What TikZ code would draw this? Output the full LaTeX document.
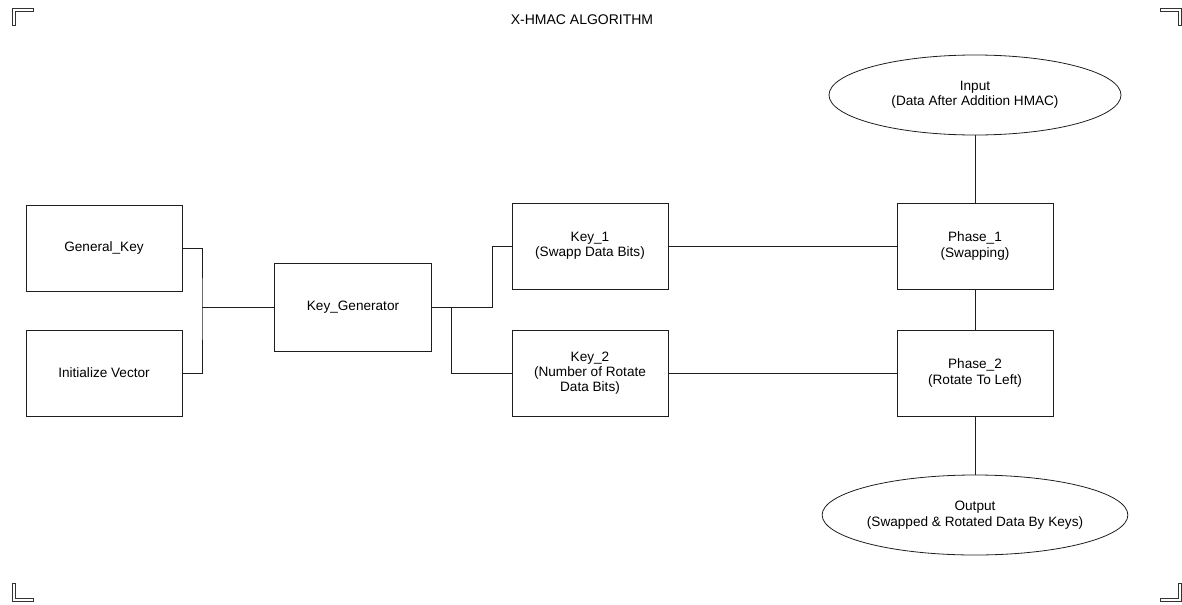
\documentclass[tikz,border=0pt]{standalone}
\usepackage{fontspec}
\setmainfont{Liberation Sans}
\usetikzlibrary{positioning,shapes.geometric}
\definecolor{xhline}{RGB}{30,30,30}
\definecolor{xhmark}{RGB}{50,50,50}
\tikzset{
  blockbox/.style={draw=xhline,line width=0.6pt,minimum width=117pt,minimum height=64.5pt,
    align=center,font=\fontsize{10.2}{11.5}\selectfont,inner sep=1pt},
  termoval/.style={draw=xhline,line width=0.6pt,ellipse,inner sep=0pt,
    align=center,font=\fontsize{10.2}{11.5}\selectfont},
  linkline/.style={draw=xhline,line width=0.6pt},
  cornermark/.style={draw=xhmark,line width=0.6pt,fill=white},
  headfont/.style={font=\fontsize{10.5}{12}\selectfont},
}
\begin{document}
\begin{tikzpicture}[x=0.75pt,y=-0.75pt]
        \useasboundingbox (0,0) rectangle (1182,604);
        % corner marks
        \draw[cornermark] (12,8) -- (33,8) -- (33,11) -- (15,11) -- (15,25) -- (12,25) -- cycle;
        \draw[cornermark] (1181,8) -- (1160,8) -- (1160,11) -- (1178,11) -- (1178,25) -- (1181,25) -- cycle;
        \draw[cornermark] (12,601) -- (33,601) -- (33,598) -- (15,598) -- (15,583) -- (12,583) -- cycle;
        \draw[cornermark] (1181,601) -- (1160,601) -- (1160,598) -- (1178,598) -- (1178,583) -- (1181,583) -- cycle;
        \node[headfont] (title) at (582,20) {X-HMAC ALGORITHM};
        % blocks
        \node[blockbox] (gk) at (104,248) {General\_Key};
        \node[blockbox] (iv) at (104,373) {Initialize Vector};
        \node[blockbox,minimum width=117.75pt,minimum height=66pt] (kg) at (353,307) {Key\_Generator};
        \node[blockbox] (k1) at (590,246) {Key\_1\\(Swapp Data Bits)};
        \node[blockbox] (k2) at (590,373) {Key\_2\\(Number of Rotate\\Data Bits)};
        \node[blockbox] (p1) at (975,246) {Phase\_1\\(Swapping)};
        \node[blockbox] (p2) at (975,373) {Phase\_2\\(Rotate To Left)};
        \node[termoval,minimum width=219pt,minimum height=60pt] (in) at (975,95) {Input\\(Data After Addition HMAC)};
        \node[termoval,minimum width=226.5pt,minimum height=60pt] (out) at (975,515) {Output\\(Swapped \& Rotated Data By Keys)};
        % joints
        \coordinate (jin) at (202,307);
        \coordinate (jk1) at (492,307);
        \coordinate (jk2) at (451,307);
        % links
        \draw[linkline] (gk.east) -| (jin) |- (iv.east);
        \draw[linkline] (jin) -- (kg.west);
        \draw[linkline] (kg.east) -- (jk1) |- (k1.west);
        \draw[linkline] (jk2) |- (k2.west);
        \draw[linkline] (k1.east) -- (p1.west);
        \draw[linkline] (k2.east) -- (p2.west);
        \draw[linkline] (in.south) -- (p1.north);
        \draw[linkline] (p1.south) -- (p2.north);
        \draw[linkline] (p2.south) -- (out.north);
      \end{tikzpicture}
\end{document}
